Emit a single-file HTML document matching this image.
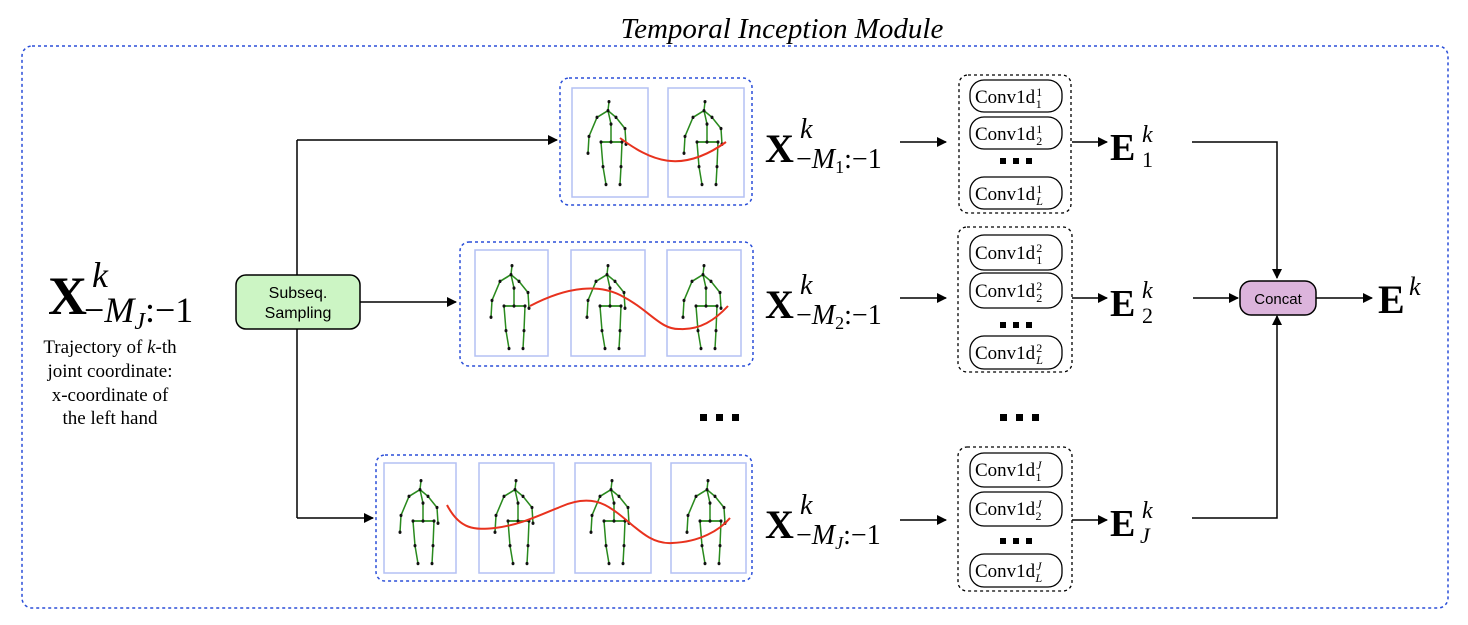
<!DOCTYPE html>
<html><head><meta charset="utf-8"><style>
html,body{margin:0;padding:0;background:#fff;}
svg text{font-family:"Liberation Serif",serif;}
svg text.sans{font-family:"Liberation Sans",sans-serif;}
</style></head><body>
<svg width="1468" height="620" viewBox="0 0 1468 620" xmlns="http://www.w3.org/2000/svg">
<defs>
<marker id="ar" markerWidth="10" markerHeight="10" refX="9" refY="5" orient="auto" markerUnits="userSpaceOnUse">
<path d="M0,0 L10,5 L0,10 z" fill="#000"/></marker>
<g id="sk">
<g fill="none" stroke="#2a8a1e" stroke-width="1.5">
<path d="M37,14 L36,22 L25,28 L17,45 L16,60 M36,22 L44,28 L53,38 L54,52 M36,22 L39,34 L39,50 M29,50 L50,50 M29,50 L31,72 L34,88 M50,50 L49,72 L48,88"/>
</g>
<g fill="#111">
<circle cx="37" cy="14" r="1.5"/><circle cx="36" cy="22" r="1.5"/><circle cx="25" cy="28" r="1.5"/><circle cx="17" cy="45" r="1.5"/><circle cx="16" cy="60" r="1.5"/><circle cx="44" cy="28" r="1.5"/><circle cx="53" cy="38" r="1.5"/><circle cx="54" cy="52" r="1.5"/><circle cx="39" cy="34" r="1.5"/><circle cx="39" cy="50" r="1.5"/><circle cx="29" cy="50" r="1.5"/><circle cx="50" cy="50" r="1.5"/><circle cx="31" cy="72" r="1.5"/><circle cx="34" cy="88" r="1.5"/><circle cx="49" cy="72" r="1.5"/><circle cx="48" cy="88" r="1.5"/>
</g></g>
</defs>

<text x="782" y="38" font-size="29" font-style="italic" text-anchor="middle">Temporal Inception Module</text>
<rect x="22" y="46" width="1426" height="562" rx="10" fill="none" stroke="#2b4fd8" stroke-width="1.5" stroke-dasharray="3,3"/>

<!-- left label -->
<text x="48" y="314" font-size="54" font-weight="bold">X</text>
<text x="92" y="287" font-size="36" font-style="italic">k</text>
<text x="84" y="322" font-size="36"><tspan>−</tspan><tspan font-style="italic">M</tspan><tspan font-style="italic" font-size="24" dy="7">J</tspan><tspan dy="-7">:−1</tspan></text>
<g font-size="19" text-anchor="middle">
<text x="110" y="353">Trajectory of <tspan font-style="italic">k</tspan>-th</text>
<text x="110" y="377">joint coordinate:</text>
<text x="110" y="401">x-coordinate of</text>
<text x="110" y="424">the left hand</text>
</g>

<!-- subseq -->
<line x1="297" y1="140" x2="297" y2="518" stroke="#000" stroke-width="1.5"/>
<line x1="297" y1="140" x2="557" y2="140" stroke="#000" stroke-width="1.5" marker-end="url(#ar)"/>
<line x1="360" y1="302" x2="456" y2="302" stroke="#000" stroke-width="1.5" marker-end="url(#ar)"/>
<line x1="297" y1="518" x2="373" y2="518" stroke="#000" stroke-width="1.5" marker-end="url(#ar)"/>
<rect x="236" y="275" width="124" height="54" rx="10" fill="#ccf5c4" stroke="#000" stroke-width="1.5"/>
<text class="sans" x="298" y="298" font-size="16" text-anchor="middle">Subseq.</text>
<text class="sans" x="298" y="318" font-size="16" text-anchor="middle">Sampling</text>

<!-- box 1 -->
<rect x="560" y="78" width="192" height="127" rx="9" fill="none" stroke="#2b4fd8" stroke-width="1.5" stroke-dasharray="3,3"/>
<g fill="none" stroke="#b4c0f4" stroke-width="1.5">
<rect x="572" y="88" width="76" height="109"/><rect x="668" y="88" width="76" height="109"/></g>
<use href="#sk" transform="translate(572,86) scale(1,1.12)"/>
<use href="#sk" transform="translate(668,86) scale(1,1.12)"/>
<path d="M620,138 C650,160 680,175 726,142" fill="none" stroke="#e8321e" stroke-width="2"/>

<!-- box 2 -->
<rect x="460" y="242" width="293" height="124" rx="9" fill="none" stroke="#2b4fd8" stroke-width="1.5" stroke-dasharray="3,3"/>
<g fill="none" stroke="#b4c0f4" stroke-width="1.5">
<rect x="475" y="250" width="73" height="106"/><rect x="571" y="250" width="74" height="106"/><rect x="667" y="250" width="74" height="106"/></g>
<use href="#sk" transform="translate(475,250) scale(1,1.12)"/>
<use href="#sk" transform="translate(571,250) scale(1,1.12)"/>
<use href="#sk" transform="translate(667,250) scale(1,1.12)"/>
<path d="M530,306 C570,285 600,285 620,295 C650,310 660,330 680,329 C700,330 715,320 728,306" fill="none" stroke="#e8321e" stroke-width="2"/>

<!-- box 3 -->
<rect x="376" y="455" width="376" height="126" rx="9" fill="none" stroke="#2b4fd8" stroke-width="1.5" stroke-dasharray="3,3"/>
<g fill="none" stroke="#b4c0f4" stroke-width="1.5">
<rect x="384" y="463" width="72" height="110"/><rect x="479" y="463" width="75" height="110"/><rect x="575" y="463" width="76" height="110"/><rect x="671" y="463" width="75" height="110"/></g>
<use href="#sk" transform="translate(384,465) scale(1,1.12)"/>
<use href="#sk" transform="translate(479,465) scale(1,1.12)"/>
<use href="#sk" transform="translate(575,465) scale(1,1.12)"/>
<use href="#sk" transform="translate(671,465) scale(1,1.12)"/>
<path d="M447,505 C460,530 475,530 495,528 C520,525 540,515 560,507 C580,498 595,500 605,505 C630,518 645,545 672,543 C700,542 720,530 730,518" fill="none" stroke="#e8321e" stroke-width="2"/>

<!-- X labels -->
<g>
<text x="765" y="162" font-size="40" font-weight="bold">X</text>
<text x="800" y="138" font-size="28" font-style="italic">k</text>
<text x="796" y="168" font-size="28">−<tspan font-style="italic">M</tspan><tspan font-size="18" dy="5">1</tspan><tspan dy="-5">:−1</tspan></text>
<text x="765" y="318" font-size="40" font-weight="bold">X</text>
<text x="800" y="294" font-size="28" font-style="italic">k</text>
<text x="796" y="324" font-size="28">−<tspan font-style="italic">M</tspan><tspan font-size="18" dy="5">2</tspan><tspan dy="-5">:−1</tspan></text>
<text x="765" y="538" font-size="40" font-weight="bold">X</text>
<text x="800" y="514" font-size="28" font-style="italic">k</text>
<text x="796" y="544" font-size="28">−<tspan font-style="italic">M</tspan><tspan font-size="18" font-style="italic" dy="5">J</tspan><tspan dy="-5">:−1</tspan></text>
</g>
<g stroke="#000" stroke-width="1.5">
<line x1="900" y1="142" x2="946" y2="142" marker-end="url(#ar)"/>
<line x1="900" y1="298" x2="946" y2="298" marker-end="url(#ar)"/>
<line x1="900" y1="520" x2="946" y2="520" marker-end="url(#ar)"/>
</g>

<!-- dots -->
<g fill="#000">
<rect x="700" y="414" width="7" height="7"/><rect x="716" y="414" width="7" height="7"/><rect x="732" y="414" width="7" height="7"/>
<rect x="1000" y="414" width="7" height="7"/><rect x="1016" y="414" width="7" height="7"/><rect x="1032" y="414" width="7" height="7"/>
</g>

<!-- conv boxes -->
<g fill="none" stroke="#000" stroke-width="1.3">
<rect x="959" y="75" width="112" height="138" rx="9" stroke-dasharray="3,3"/>
<rect x="958" y="227" width="114" height="145" rx="9" stroke-dasharray="3,3"/>
<rect x="958" y="447" width="114" height="144" rx="9" stroke-dasharray="3,3"/>
<rect x="970" y="80" width="92" height="32" rx="14"/>
<rect x="970" y="117" width="92" height="32" rx="14"/>
<rect x="970" y="177" width="92" height="32" rx="14"/>
<rect x="970" y="235" width="92" height="35" rx="14"/>
<rect x="970" y="273" width="92" height="35" rx="14"/>
<rect x="970" y="336" width="92" height="33" rx="14"/>
<rect x="970" y="453" width="92" height="34" rx="14"/>
<rect x="970" y="492" width="92" height="34" rx="14"/>
<rect x="970" y="554" width="92" height="33" rx="14"/>
</g>
<g fill="#000">
<rect x="1000" y="158" width="6" height="6"/><rect x="1013" y="158" width="6" height="6"/><rect x="1026" y="158" width="6" height="6"/>
<rect x="1000" y="322" width="6" height="6"/><rect x="1013" y="322" width="6" height="6"/><rect x="1026" y="322" width="6" height="6"/>
<rect x="1000" y="538" width="6" height="6"/><rect x="1013" y="538" width="6" height="6"/><rect x="1026" y="538" width="6" height="6"/>
</g>
<g font-size="19">
<text x="975" y="103">Conv1d<tspan font-size="12" dx="1" dy="-7">1</tspan><tspan font-size="12" dx="-6" dy="12">1</tspan></text>
<text x="975" y="140">Conv1d<tspan font-size="12" dx="1" dy="-7">1</tspan><tspan font-size="12" dx="-6" dy="12">2</tspan></text>
<text x="975" y="200">Conv1d<tspan font-size="12" dx="1" dy="-7">1</tspan><tspan font-size="12" font-style="italic" dx="-6" dy="12">L</tspan></text>
<text x="975" y="259">Conv1d<tspan font-size="12" dx="1" dy="-7">2</tspan><tspan font-size="12" dx="-6" dy="12">1</tspan></text>
<text x="975" y="297">Conv1d<tspan font-size="12" dx="1" dy="-7">2</tspan><tspan font-size="12" dx="-6" dy="12">2</tspan></text>
<text x="975" y="359">Conv1d<tspan font-size="12" dx="1" dy="-7">2</tspan><tspan font-size="12" font-style="italic" dx="-6" dy="12">L</tspan></text>
<text x="975" y="476">Conv1d<tspan font-size="12" font-style="italic" dx="1" dy="-7">J</tspan><tspan font-size="12" dx="-6" dy="12">1</tspan></text>
<text x="975" y="515">Conv1d<tspan font-size="12" font-style="italic" dx="1" dy="-7">J</tspan><tspan font-size="12" dx="-6" dy="12">2</tspan></text>
<text x="975" y="577">Conv1d<tspan font-size="12" font-style="italic" dx="1" dy="-7">J</tspan><tspan font-size="12" font-style="italic" dx="-6" dy="12">L</tspan></text>
</g>

<!-- E -->
<g stroke="#000" stroke-width="1.5" fill="none">
<line x1="1072" y1="142" x2="1107" y2="142" marker-end="url(#ar)"/>
<line x1="1072" y1="298" x2="1107" y2="298" marker-end="url(#ar)"/>
<line x1="1072" y1="520" x2="1107" y2="520" marker-end="url(#ar)"/>
<polyline points="1192,142 1277,142 1277,278" marker-end="url(#ar)"/>
<polyline points="1192,518 1277,518 1277,316" marker-end="url(#ar)"/>
<line x1="1193" y1="298" x2="1238" y2="298" marker-end="url(#ar)"/>
<line x1="1316" y1="298" x2="1372" y2="298" marker-end="url(#ar)"/>
</g>
<g>
<text x="1110" y="160" font-size="38" font-weight="bold">E</text>
<text x="1142" y="142" font-size="24" font-style="italic">k</text><text x="1142" y="167" font-size="22">1</text>
<text x="1110" y="316" font-size="38" font-weight="bold">E</text>
<text x="1142" y="298" font-size="24" font-style="italic">k</text><text x="1142" y="323" font-size="22">2</text>
<text x="1110" y="536" font-size="38" font-weight="bold">E</text>
<text x="1142" y="518" font-size="24" font-style="italic">k</text><text x="1140" y="543" font-size="22" font-style="italic">J</text>
<text x="1378" y="313" font-size="40" font-weight="bold">E</text>
<text x="1409" y="295" font-size="26" font-style="italic">k</text>
</g>
<rect x="1240" y="281" width="76" height="34" rx="11" fill="#dcb4dc" stroke="#000" stroke-width="1.5"/>
<text class="sans" x="1278" y="304" font-size="15" text-anchor="middle">Concat</text>
</svg>
</body></html>
